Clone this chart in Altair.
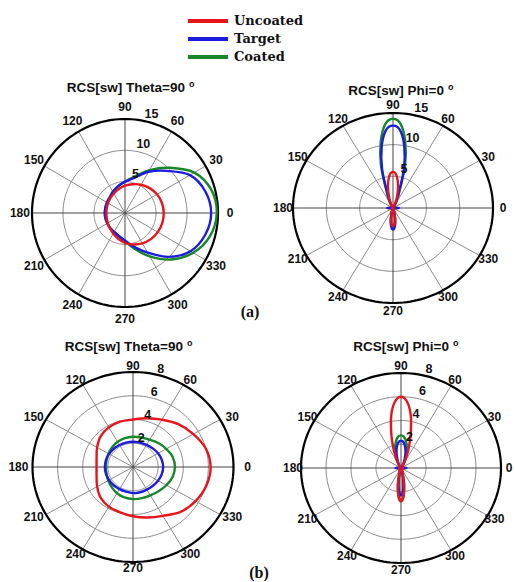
import altair as alt
import pandas as pd

SERIES = ["Uncoated", "Target", "Coated"]
SERIES_COLORS = ["#e8141c", "#1c1cdc", "#17872a"]

# ---- (a) RCS[sw] Theta=90 cut, 15 degree samples ----
STEP15 = list(range(0, 360, 15))
A_THETA_UNCOATED = [6.25, 6.17, 5.96, 5.62, 5.2, 4.75, 4.35, 3.95, 3.6, 3.35, 3.15, 3.05,
                    3.0, 3.05, 3.2, 3.45, 3.8, 4.25, 4.75, 5.2, 5.6, 5.9, 6.1, 6.22]
A_THETA_TARGET = [13.9, 13.4, 12.1, 9.5, 7.6, 5.8, 5.0, 4.4, 3.9, 3.5, 3.35, 3.28,
                  3.26, 3.27, 3.3, 3.4, 3.5, 3.8, 4.4, 5.6, 7.3, 9.9, 12.2, 13.4]
A_THETA_COATED = [14.8, 14.4, 12.9, 10.2, 7.9, 6.0, 5.0, 4.4, 3.9, 3.5, 3.35, 3.28,
                  3.26, 3.27, 3.3, 3.4, 3.5, 3.85, 4.5, 5.9, 8.0, 10.5, 12.7, 14.2]

# ---- (a) RCS[sw] Phi=0 cut, 5 degree samples ----
STEP5 = list(range(0, 360, 5))
A_PHI_UNCOATED = [0.15] * 10 \
    + [0.2, 0.35, 0.35, 0.8, 1.6, 2.8, 4.2, 5.3, 5.7, 5.3, 4.2, 2.8, 1.6, 0.8, 0.35, 0.35, 0.2] \
    + [0.15] * 23 + [0.3, 0.7, 1.6, 2.5, 2.85, 2.5, 1.6, 0.7, 0.3] + [0.15] * 13
A_PHI_TARGET = [0.9, 0.6, 0.3] + [0.15] * 7 \
    + [0.2, 0.3, 0.5, 1.1, 2.5, 6.3, 9.8, 12.3, 13.0, 12.3, 9.8, 6.3, 2.5, 1.1, 0.5, 0.3, 0.2] \
    + [0.15] * 7 + [0.3, 0.6, 0.9, 0.6, 0.3] + [0.15] * 11 \
    + [0.3, 0.9, 2.0, 3.0, 3.4, 3.0, 2.0, 0.9, 0.3] + [0.15] * 11 + [0.3, 0.6]
A_PHI_COATED = [0.15] * 10 \
    + [0.2, 0.3, 0.6, 1.3, 2.8, 7.0, 10.6, 13.3, 14.1, 13.3, 10.6, 7.0, 2.8, 1.3, 0.6, 0.3, 0.2] \
    + [0.15] * 23 + [0.3, 0.8, 1.8, 2.7, 3.0, 2.7, 1.8, 0.8, 0.3] + [0.15] * 13

# ---- (b) RCS[sw] Theta=90 cut, 15 degree samples ----
B_THETA_UNCOATED = [6.18, 6.0, 5.55, 5.1, 4.6, 4.25, 4.0, 3.95, 3.85, 3.65, 3.3, 3.0,
                    2.9, 3.0, 3.3, 3.65, 3.85, 3.95, 4.15, 4.4, 4.75, 5.35, 5.75, 6.05]
B_THETA_TARGET = [2.4, 2.37, 2.3, 2.22, 2.15, 2.12, 2.13, 2.13, 2.14, 2.17, 2.2, 2.23,
                  2.24, 2.23, 2.2, 2.17, 2.15, 2.15, 2.2, 2.2, 2.2, 2.24, 2.3, 2.37]
B_THETA_COATED = [3.34, 3.27, 3.05, 2.85, 2.65, 2.57, 2.55, 2.52, 2.45, 2.35, 2.25, 2.18,
                  2.16, 2.18, 2.27, 2.4, 2.55, 2.65, 2.7, 2.72, 2.75, 2.88, 3.07, 3.26]

# ---- (b) RCS[sw] Phi=0 cut, 5 degree samples ----
B_PHI_UNCOATED = [0.15] * 10 \
    + [0.2, 0.25, 0.55, 1.0, 1.8, 3.0, 4.5, 5.6, 6.0, 5.6, 4.5, 3.0, 1.8, 1.0, 0.55, 0.25, 0.2] \
    + [0.15] * 23 + [0.25, 0.5, 1.4, 2.3, 2.8, 2.3, 1.4, 0.5, 0.25] + [0.15] * 13
B_PHI_TARGET = [0.45, 0.3] + [0.15] * 9 \
    + [0.2, 0.3, 0.55, 0.9, 1.4, 1.85, 2.2, 2.3, 2.2, 1.85, 1.4, 0.9, 0.55, 0.3, 0.2] \
    + [0.15] * 9 + [0.3, 0.45, 0.3] + [0.15] * 12 \
    + [0.2, 0.35, 1.0, 1.9, 2.3, 1.9, 1.0, 0.35, 0.2] + [0.15] * 12 + [0.3]
B_PHI_COATED = [0.15] * 11 \
    + [0.25, 0.4, 0.75, 1.25, 1.8, 2.3, 2.65, 2.75, 2.65, 2.3, 1.8, 1.25, 0.75, 0.4, 0.25] \
    + [0.15] * 23 + [0.3, 0.3, 0.7, 1.5, 2.4, 2.8, 2.4, 1.5, 0.7, 0.3] + [0.15] * 13

# polar frame of each panel: centre, radii (px), full-scale value, label placement
PANELS = pd.DataFrame({
    "panel": ["a_theta", "a_phi", "b_theta", "b_phi"],
    "cx": [125, 393, 133, 401],
    "cy": [213, 208, 467, 468],
    "rx": [93, 100, 100.5, 100],
    "ry": [94, 95, 95, 95],
    "rmax": [15, 15, 8, 8],
    "lfx": [1.13, 1.1, 1.14, 1.08],
    "lfy": [1.13, 1.08, 1.06, 1.07],
    "tick_off": [9, 9, 6.5, 8],
})
RINGS = {"a_theta": [5, 10, 15], "a_phi": [5, 10, 15],
         "b_theta": [2, 4, 6, 8], "b_phi": [2, 4, 6, 8]}
ANGLE_TICKS = list(range(0, 360, 30))

TITLES = pd.DataFrame({
    "text": ["RCS[sw] Theta=90", "RCS[sw] Phi=0", "RCS[sw] Theta=90", "RCS[sw] Phi=0"],
    "x": [185, 444, 183, 449],
    "y": [88, 91, 347, 347],
})
CAPTIONS = pd.DataFrame({"text": ["(a)", "(b)"], "x": [250, 259], "y": [312, 573]})

W, H = 515, 582

# ---------- tables ----------
curve_rows = []
for panel, angles, vals in [
    ("a_theta", STEP15, [A_THETA_UNCOATED, A_THETA_TARGET, A_THETA_COATED]),
    ("a_phi", STEP5, [A_PHI_UNCOATED, A_PHI_TARGET, A_PHI_COATED]),
    ("b_theta", STEP15, [B_THETA_UNCOATED, B_THETA_TARGET, B_THETA_COATED]),
    ("b_phi", STEP5, [B_PHI_UNCOATED, B_PHI_TARGET, B_PHI_COATED]),
]:
    for name, series in zip(SERIES, vals):
        for a, r in zip(angles, series):
            curve_rows.append({"panel": panel, "series": name, "angle": a, "r": r})
curves = pd.DataFrame(curve_rows).merge(PANELS, on="panel")

ring_rows = []
for panel, rings in RINGS.items():
    for ring in rings:
        for a in range(0, 361, 2):
            ring_rows.append({"panel": panel, "r": ring, "angle": a,
                              "outer": ring == rings[-1]})
rings_df = pd.DataFrame(ring_rows).merge(PANELS, on="panel")

tick_rows = [{"panel": p, "r": ring, "label": str(ring)} for p, rs in RINGS.items() for ring in rs]
rticks = pd.DataFrame(tick_rows).merge(PANELS, on="panel")

spokes = pd.DataFrame([{"panel": p, "angle": a, "main": a % 90 == 0}
                       for p in PANELS.panel for a in range(0, 180, 30)]).merge(PANELS, on="panel")
alabels = pd.DataFrame([{"panel": p, "angle": a, "label": str(a)}
                        for p in PANELS.panel for a in ANGLE_TICKS]).merge(PANELS, on="panel")

XS = alt.Scale(domain=[0, W], nice=False, zero=False)
YS = alt.Scale(domain=[0, H], nice=False, zero=False, reverse=True)
COLOR = alt.Scale(domain=SERIES, range=SERIES_COLORS)

PX = "datum.cx + datum.r / datum.rmax * datum.rx * cos(datum.angle * PI / 180)"
PY = "datum.cy - datum.r / datum.rmax * datum.ry * sin(datum.angle * PI / 180)"


def xy(xf="px", yf="py"):
    return dict(x=alt.X(f"{xf}:Q", scale=XS, axis=None),
                y=alt.Y(f"{yf}:Q", scale=YS, axis=None))


# ---------- polar grid ----------
ring_base = alt.Chart(rings_df).transform_calculate(px=PX, py=PY, key="datum.panel + '_' + datum.r")
inner_rings = ring_base.transform_filter("!datum.outer").mark_line(
    color="#8a8a8a", strokeWidth=1).encode(**xy(), detail="key:N", order="angle:Q")
outer_rings = ring_base.transform_filter("datum.outer").mark_line(
    color="#000000", strokeWidth=2.2).encode(**xy(), detail="key:N", order="angle:Q")

spoke_base = alt.Chart(spokes).transform_calculate(
    px="datum.cx + datum.rx * cos(datum.angle * PI / 180)",
    py="datum.cy - datum.ry * sin(datum.angle * PI / 180)",
    px2="datum.cx - datum.rx * cos(datum.angle * PI / 180)",
    py2="datum.cy + datum.ry * sin(datum.angle * PI / 180)",
)
spoke_minor = spoke_base.transform_filter("!datum.main").mark_rule(
    color="#8a8a8a", strokeWidth=1).encode(**xy(), x2="px2:Q", y2="py2:Q")
spoke_main = spoke_base.transform_filter("datum.main").mark_rule(
    color="#444444", strokeWidth=1).encode(**xy(), x2="px2:Q", y2="py2:Q")

angle_text = alt.Chart(alabels).transform_calculate(
    px="datum.cx + datum.lfx * datum.rx * cos(datum.angle * PI / 180)",
    py="datum.cy - datum.lfy * datum.ry * sin(datum.angle * PI / 180)",
).mark_text(font="Liberation Sans", fontSize=12, fontWeight="bold", color="#111111",
            baseline="middle", align="center").encode(**xy(), text="label:N")

radial_text = alt.Chart(rticks).transform_calculate(
    px="datum.cx + (datum.r / datum.rmax * datum.rx + datum.tick_off) * cos(75 * PI / 180)",
    py="datum.cy - (datum.r / datum.rmax * datum.ry + datum.tick_off) * sin(75 * PI / 180)",
).mark_text(font="Liberation Sans", fontSize=12.5, fontWeight="bold", color="#111111",
            baseline="middle", align="center").encode(**xy(), text="label:N")

# ---------- RCS curves ----------
curve_base = alt.Chart(curves).transform_calculate(px=PX, py=PY)
curve_layers = [
    curve_base.transform_filter(alt.datum.series == s).mark_line(
        strokeWidth=2.4, interpolate="cardinal-closed").encode(
        **xy(), color=alt.Color("series:N", scale=COLOR, legend=None),
        detail="panel:N", order="angle:Q")
    for s in ["Coated", "Target", "Uncoated"]
]

# ---------- titles, captions, legend ----------
titles = alt.Chart(TITLES).mark_text(
    font="Liberation Sans", fontSize=13.5, fontWeight="bold", color="#111111",
    align="right", baseline="middle").encode(**xy("x", "y"), text="text:N")
degree = alt.Chart(TITLES).transform_calculate(px="datum.x + 4", py="datum.y - 4").mark_text(
    font="Liberation Sans", fontSize=9, fontWeight="bold", color="#111111",
    align="left", baseline="middle", text="o").encode(**xy())
captions = alt.Chart(CAPTIONS).mark_text(
    font="Liberation Serif", fontSize=16, fontWeight="bold", color="#111111",
    align="center", baseline="middle").encode(**xy("x", "y"), text="text:N")

legend_df = pd.DataFrame({"series": SERIES, "row": [0, 1, 2]})
legend_base = alt.Chart(legend_df).transform_calculate(
    px="188", px2="228", tx="234", py="21 + 18 * datum.row")
legend_lines = legend_base.mark_rule(strokeWidth=4).encode(
    **xy(), x2="px2:Q", color=alt.Color("series:N", scale=COLOR, legend=None))
legend_text = legend_base.mark_text(
    font="DejaVu Serif", fontSize=13, fontWeight="bold", color="#111111",
    align="left", baseline="middle").encode(**xy("tx", "py"), text="series:N")

chart = alt.layer(
    inner_rings, spoke_minor, spoke_main, outer_rings, *curve_layers,
    angle_text, radial_text, titles, degree, captions, legend_lines, legend_text,
).properties(
    width=W, height=H, autosize="none", padding=0, background="white",
).configure_view(stroke=None)

chart.save("out.html", embed_options={"renderer": "svg", "actions": False})
